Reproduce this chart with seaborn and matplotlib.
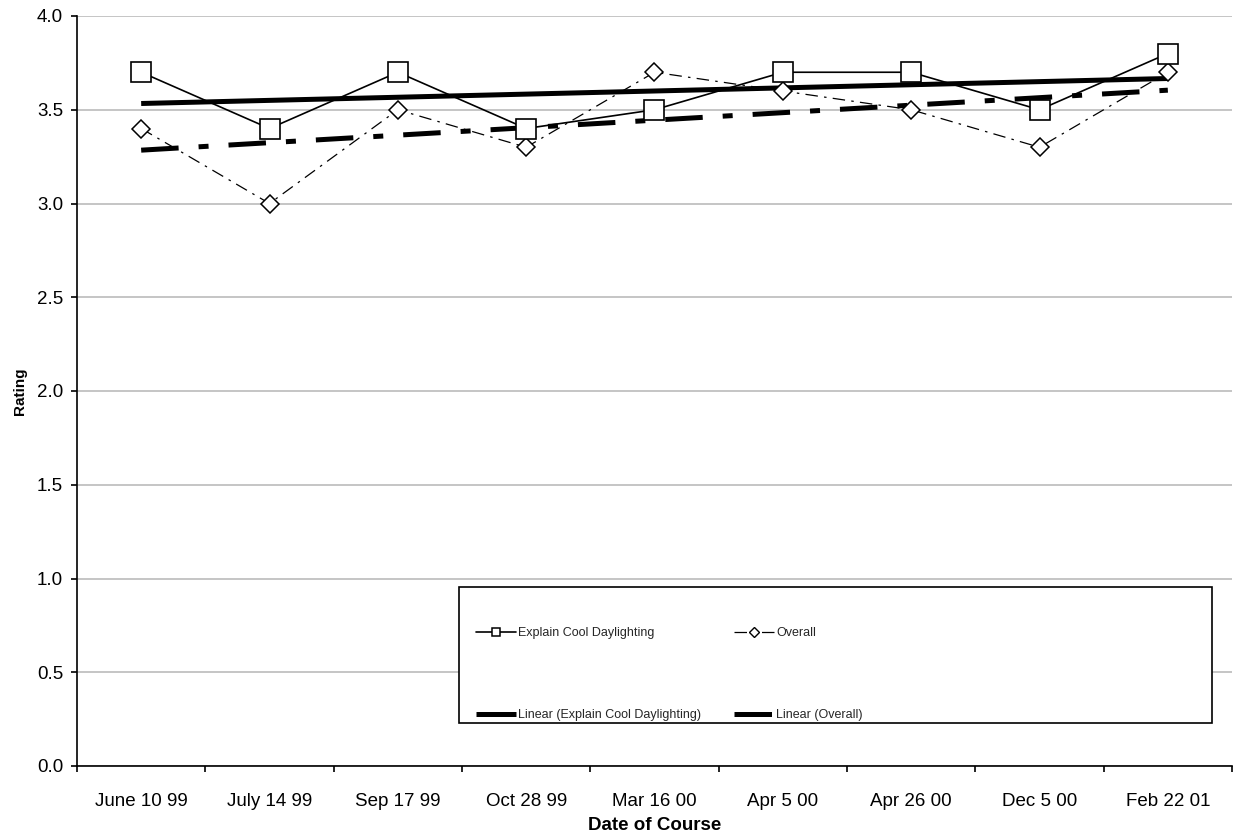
import numpy as np
import pandas as pd
import matplotlib
matplotlib.use("Agg")
import matplotlib.pyplot as plt
import seaborn as sns
from matplotlib.lines import Line2D
from matplotlib.patches import Rectangle
from matplotlib.ticker import FixedLocator, FormatStrFormatter

# ---- data ----
dates = ["June 10 99", "July 14 99", "Sep 17 99", "Oct 28 99", "Mar 16 00",
         "Apr 5 00", "Apr 26 00", "Dec 5 00", "Feb 22 01"]
explain = [3.7, 3.4, 3.7, 3.4, 3.5, 3.7, 3.7, 3.5, 3.8]
overall = [3.4, 3.0, 3.5, 3.3, 3.7, 3.6, 3.5, 3.3, 3.7]
labels = ["Explain Cool Daylighting", "Overall",
          "Linear (Explain Cool Daylighting)", "Linear (Overall)"]
yticks = [0.0, 0.5, 1.0, 1.5, 2.0, 2.5, 3.0, 3.5, 4.0]

sns.set_style("white")
plt.rcParams['font.family'] = ['Liberation Sans', 'DejaVu Sans']

W, H = 1233, 836
fig = plt.figure(figsize=(W / 100, H / 100), dpi=100)
L, R, T, B = 77, 1232, 16, 766
ax = fig.add_axes([L / W, 1 - B / H, (R - L) / W, (B - T) / H])

df = pd.DataFrame({"idx": np.arange(len(dates)), "date": dates,
                   "explain": explain, "overall": overall})

OV_TREND = (0, (7.5, 4, 2, 4))
OV_LINE = (0, (10, 5, 2, 5))

# trend lines (linear fits)
sns.regplot(data=df, x="idx", y="explain", scatter=False, ci=None, truncate=True,
            ax=ax, color="black",
            line_kws=dict(lw=3.6, solid_capstyle="butt", zorder=2))
sns.regplot(data=df, x="idx", y="overall", scatter=False, ci=None, truncate=True,
            ax=ax, color="black",
            line_kws=dict(lw=3.6, linestyle=OV_TREND, dash_capstyle="butt", zorder=2))

# data series
sns.lineplot(data=df, x="idx", y="overall", ax=ax, color="black", lw=0.9,
             linestyle=OV_LINE, marker="D", markersize=9,
             markerfacecolor="white", markeredgecolor="black",
             markeredgewidth=1.1, zorder=3)
sns.lineplot(data=df, x="idx", y="explain", ax=ax, color="black", lw=1.2,
             marker="s", markersize=14.4,
             markerfacecolor="white", markeredgecolor="black",
             markeredgewidth=1.2, zorder=3)

# axes
ax.set_xlim(-0.5, len(dates) - 0.5)
ax.set_ylim(0, 4)
ax.set_yticks(yticks)
ax.yaxis.set_major_formatter(FormatStrFormatter("%.1f"))
ax.set_xticks(np.arange(len(dates)))
ax.set_xticklabels(dates)
ax.xaxis.set_minor_locator(FixedLocator(np.arange(-0.5, len(dates), 1.0)))

ax.yaxis.grid(True, color="#c0c0c0", lw=1.3)
ax.xaxis.grid(False)
ax.set_axisbelow(True)

for s in ["top", "right"]:
    ax.spines[s].set_visible(False)
for s in ["left", "bottom"]:
    ax.spines[s].set_color("black")
    ax.spines[s].set_linewidth(1.2)

ax.tick_params(axis="x", which="major", length=0, pad=19.5, labelsize=13.5,
               bottom=True, colors="black")
ax.tick_params(axis="x", which="minor", length=4.5, width=1.2, bottom=True,
               direction="out", color="black")
ax.tick_params(axis="y", which="major", length=4.5, width=1.2, left=True,
               direction="out", pad=5.5, labelsize=13.5, colors="black")

ax.set_xlabel("Date of Course", fontweight="bold", fontsize=13.5, labelpad=5,
              color="black")
ax.set_ylabel("Rating", fontweight="bold", fontsize=11, labelpad=7, color="black")

# legend box
ax.add_patch(Rectangle((459 / W, 1 - 723 / H), (1212 - 459) / W, (723 - 587) / H,
                       transform=fig.transFigure, facecolor="white",
                       edgecolor="black", lw=1.2, zorder=4))

h_exp = Line2D([], [], color="black", lw=1.2, marker="s", markersize=6,
               markerfacecolor="white", markeredgecolor="black", markeredgewidth=1.1)
h_ov = Line2D([], [], color="black", lw=0.9, linestyle=OV_LINE, marker="D",
              markersize=5, markerfacecolor="white", markeredgecolor="black",
              markeredgewidth=1.0)
h_lexp = Line2D([], [], color="black", lw=3.6, solid_capstyle="butt")
h_lov = Line2D([], [], color="black", lw=3.6, linestyle=OV_TREND, dash_capstyle="butt")

ax.legend([h_exp, h_lexp, h_ov, h_lov],
          [labels[0], labels[2], labels[1], labels[3]],
          ncol=2, loc="upper left", bbox_to_anchor=(476 / W, 1 - 627 / H),
          bbox_transform=fig.transFigure, frameon=False, fontsize=9,
          handlelength=3.2, handletextpad=0.15, columnspacing=2.66,
          labelspacing=5.62, borderpad=0, borderaxespad=0)

fig.savefig("out.png", dpi=100)
